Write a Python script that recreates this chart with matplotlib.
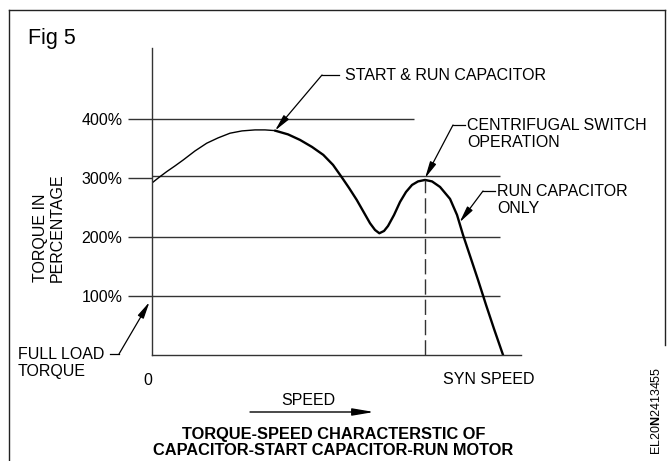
import matplotlib
matplotlib.use("Agg")
import matplotlib.pyplot as plt
from matplotlib.lines import Line2D

plt.rcParams["font.family"] = ["Liberation Sans", "DejaVu Sans"]
plt.rcParams["mathtext.fontset"] = "custom"
plt.rcParams["mathtext.rm"] = "Liberation Sans"
plt.rcParams["mathtext.bf"] = "Liberation Sans:bold"

# Torque-speed curve: speed in % of synchronous speed, torque in % of full-load torque
speed_pct = [0, 1.99, 4.19, 6.55, 8.92, 12.25, 15.58, 18.80, 22.22, 25.64,
             29.34, 32.19, 35.04, 38.75, 42.17, 45.58, 48.80, 51.57, 54.05,
             56.13, 58.32, 60.11, 62.11, 63.53, 64.76, 66.10, 67.24, 68.95,
             70.66, 72.36, 74.07, 75.78, 77.78, 79.77, 82.05, 84.90, 86.89,
             88.60, 90.60, 92.88, 95.16, 97.44, 100]
torque_pct = [292, 301.4, 311.2, 320.9, 331.1, 346.3, 359.4, 368.4, 376.4, 380.3,
              382.0, 382.0, 380.8, 374.4, 365.0, 353.1, 339.6, 322.6, 301.7,
              283.5, 263.2, 244.5, 223.6, 212.2, 206.6, 210.5, 219.0, 237.7,
              259.8, 276.7, 288.6, 294.6, 297.1, 294.6, 285.2, 264.9, 237.7,
              203.7, 168.1, 127.3, 84.9, 44.1, 0]
start_run_end = 12         # index where the start & run capacitor segment ends

torque_ticks = [100, 200, 300, 400]
torque_tick_labels = ["100%", "200%", "300%", "400%"]
switch_speed = 77.78       # centrifugal switch operation
switch_torque = 297.1

W, H = 669, 461
fig = plt.figure(figsize=(W / 100, H / 100), dpi=100)


def fp(x, y):
    """Pixel position to figure fraction."""
    return (x / W, 1 - y / H)


LINE = "#333333"
ax = fig.add_axes([152 / W, (H - 355) / H, 368.6 / W, 307 / H])
ax.set_xlim(0, 105)
ax.set_ylim(0, 521)
for s in ("top", "right"):
    ax.spines[s].set_visible(False)
for s in ("left", "bottom"):
    ax.spines[s].set_color(LINE)
    ax.spines[s].set_linewidth(1.0)
ax.set_xticks([])
ax.set_yticks(torque_ticks)
ax.set_yticklabels(torque_tick_labels, fontsize=11.5)
ax.tick_params(axis="y", length=17.3, width=1.0, color=LINE, pad=4.0)

# Reference torque levels
ref_ends = {100: 99.1, 200: 99.1, 300: 99.1, 400: 74.6}
for lvl in torque_ticks:
    ax.plot([0, ref_ends[lvl]], [lvl + (4 if lvl == 300 else 0)] * 2,
            color=LINE, lw=1.0, solid_capstyle="butt")

# Curve: thin while both capacitors act, heavier afterwards
ax.plot(speed_pct[:start_run_end + 1], torque_pct[:start_run_end + 1],
        color="black", lw=1.0, solid_capstyle="round", solid_joinstyle="round")
ax.plot(speed_pct[start_run_end:], torque_pct[start_run_end:],
        color="black", lw=1.7, solid_joinstyle="round", solid_capstyle="round")

# Switch point dashed marker
ax.plot([switch_speed, switch_speed], [0, switch_torque], color=LINE, lw=1.0,
        linestyle=(0, (11, 3.6)))

TXT = 11.5
fig.text(*fp(28, 44), "Fig 5", fontsize=15.5, ha="left", va="baseline")
fig.text(*fp(49, 282), "TORQUE IN\nPERCENTAGE", rotation=90, fontsize=TXT,
         ha="center", va="bottom", multialignment="left", linespacing=1.1)
fig.text(*fp(148, 380), "0", fontsize=TXT, ha="center", va="center")
fig.text(*fp(443, 379), "SYN SPEED", fontsize=TXT, ha="left", va="center")
fig.text(*fp(308.5, 400), "SPEED", fontsize=TXT, ha="center", va="center")
fig.text(*fp(333.5, 442.5),
         "TORQUE-SPEED CHARACTERSTIC OF\nCAPACITOR-START CAPACITOR-RUN MOTOR",
         fontsize=11.8, fontweight="bold", ha="center", va="center",
         linespacing=1.15)
fig.text(*fp(657, 411), r"EL20$\mathbf{N}$2413455", rotation=90, fontsize=9,
         ha="center", va="center")

# Speed direction arrow
ax.annotate("", xy=fp(374, 412), xycoords="figure fraction",
            xytext=fp(250, 412), textcoords="figure fraction",
            arrowprops=dict(arrowstyle="-|>,head_length=1.3,head_width=0.22",
                            color="black", lw=1.0, shrinkA=0, shrinkB=0,
                            mutation_scale=10))

ARROW = dict(arrowstyle="-|>,head_length=1.0,head_width=0.2", color="black",
             lw=0.9, shrinkA=0, shrinkB=0, mutation_scale=10)

# START & RUN CAPACITOR
fig.text(*fp(345, 75), "START & RUN CAPACITOR", fontsize=TXT, ha="left", va="center")
fig.add_artist(Line2D([339 / W, 322 / W], [1 - 75 / H] * 2, color="black", lw=0.9))
ax.annotate("", xy=(speed_pct[start_run_end], torque_pct[start_run_end]),
            xycoords="data", xytext=fp(322, 75), textcoords="figure fraction",
            arrowprops=ARROW)

# CENTRIFUGAL SWITCH OPERATION
fig.text(*fp(467, 134), "CENTRIFUGAL SWITCH\nOPERATION", fontsize=TXT,
         ha="left", va="center", linespacing=1.1)
fig.add_artist(Line2D([465 / W, 453 / W], [1 - 125 / H] * 2, color="black", lw=0.9))
ax.annotate("", xy=(switch_speed, switch_torque + 3), xycoords="data",
            xytext=fp(453, 125), textcoords="figure fraction", arrowprops=ARROW)

# RUN CAPACITOR ONLY
fig.text(*fp(497, 200), "RUN CAPACITOR\nONLY", fontsize=TXT,
         ha="left", va="center", linespacing=1.1)
fig.add_artist(Line2D([495 / W, 483 / W], [1 - 191 / H] * 2, color="black", lw=0.9))
ax.annotate("", xy=(87.6, 225), xycoords="data",
            xytext=fp(483, 191), textcoords="figure fraction", arrowprops=ARROW)

# FULL LOAD TORQUE
fig.text(*fp(18, 363), "FULL LOAD\nTORQUE", fontsize=TXT, ha="left", va="center",
         linespacing=1.1)
fig.add_artist(Line2D([110 / W, 119 / W], [1 - 354 / H] * 2, color="black", lw=0.9))
ax.annotate("", xy=fp(149.5, 302), xycoords="figure fraction",
            xytext=fp(119, 354), textcoords="figure fraction", arrowprops=ARROW)

# Outer frame
frame = dict(color="#222222", lw=1.0)
fig.add_artist(Line2D([8.5 / W, 8.5 / W], [0, 1 - 10 / H], **frame))
fig.add_artist(Line2D([8.5 / W, 664.5 / W], [1 - 10 / H] * 2, **frame))
fig.add_artist(Line2D([664.5 / W, 664.5 / W], [1 - 10 / H, 1 - 345 / H], **frame))

fig.savefig("out.png", dpi=100)
